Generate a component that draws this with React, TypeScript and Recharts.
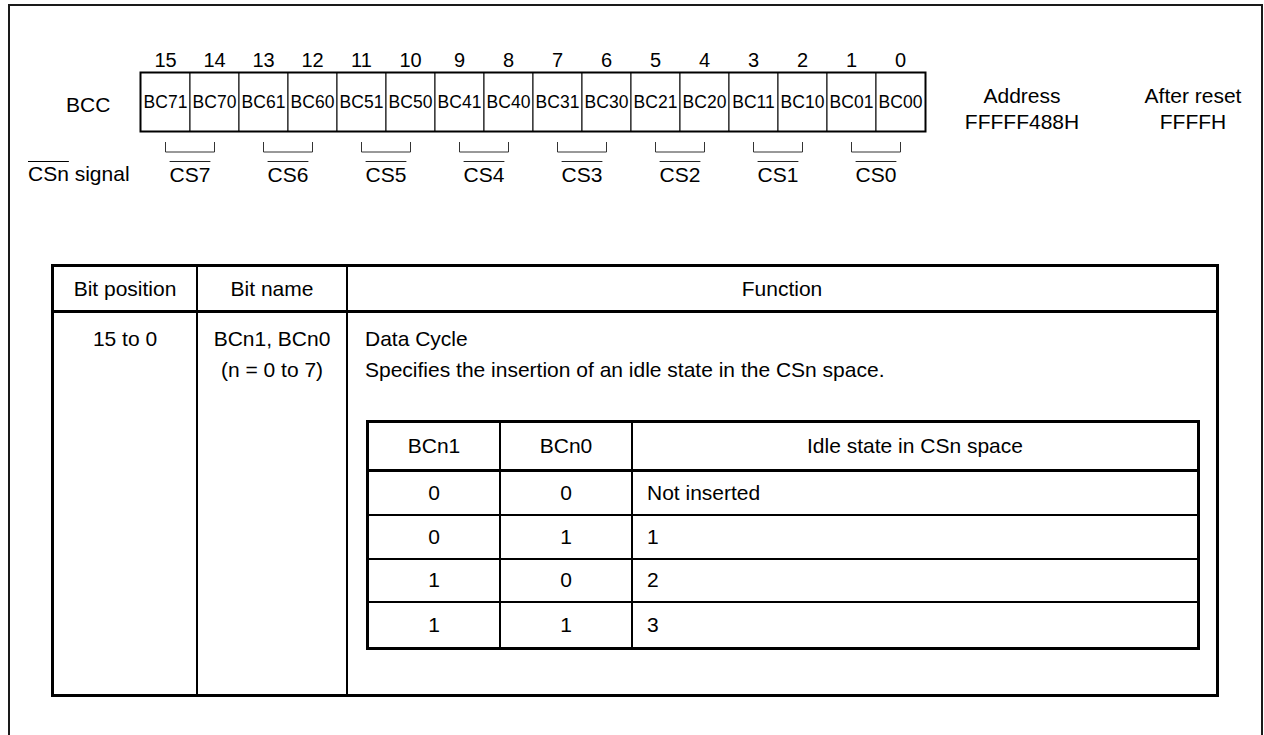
import React from 'react'
import { BarChart, Bar, XAxis, YAxis, LabelList, ReferenceArea } from 'recharts'

// register BCC, bit 15 down to bit 0
const bitNumbers = [15, 14, 13, 12, 11, 10, 9, 8, 7, 6, 5, 4, 3, 2, 1, 0]
const bitNames = [
  'BC71', 'BC70', 'BC61', 'BC60', 'BC51', 'BC50', 'BC41', 'BC40',
  'BC31', 'BC30', 'BC21', 'BC20', 'BC11', 'BC10', 'BC01', 'BC00',
]
const csSignals = [
  'CS7', 'CS7', 'CS6', 'CS6', 'CS5', 'CS5', 'CS4', 'CS4',
  'CS3', 'CS3', 'CS2', 'CS2', 'CS1', 'CS1', 'CS0', 'CS0',
]
const registerName = 'BCC'
const addressLines = ['Address', 'FFFFF488H']
const resetLines = ['After reset', 'FFFFH']

// bit description table
const tableHeaders = ['Bit position', 'Bit name', 'Function']
const bitPositionLines = ['15 to 0']
const bitNameLines = ['BCn1, BCn0', '(n = 0 to 7)']
const functionLines = ['Data Cycle', 'Specifies the insertion of an idle state in the CSn space.']

// idle state sub-table
const idleHeaders = ['BCn1', 'BCn0', 'Idle state in CSn space']
const bcn1Values = ['0', '0', '1', '1']
const bcn0Values = ['0', '1', '0', '1']
const idleStates = ['Not inserted', '1', '2', '3']

const FONT = '"Liberation Sans", Arial, Helvetica, sans-serif'

const registerData = bitNumbers.map((bit, i) => ({
  bit,
  name: bitNames[i],
  cs: csSignals[i],
  cell: 1,
}))

function CsTick(props: any) {
  const { x, y, payload } = props
  const half = (payload && payload.offset ? payload.offset : 49) / 2
  // active-low bar roughly as wide as the label
  const bar = String(payload.value).length * 6.8
  return (
    <g>
      <polyline
        points={`${x - half},${y + 11} ${x - half},${y + 21} ${x + half},${y + 21} ${x + half},${y + 11}`}
        fill='none'
        stroke='#333'
        strokeWidth={1}
      />
      <line x1={x - bar} x2={x + bar} y1={y + 30.5} y2={y + 30.5} stroke='#222' strokeWidth={1} />
      <text
        x={x}
        y={y + 43}
        textAnchor='middle'
        dominantBaseline='central'
        fontSize={21}
        fill='#000'
      >
        {payload.value}
      </text>
    </g>
  )
}

function RegisterChart() {
  return (
    <div style={{ position: 'absolute', left: 0, top: 0 }}>
      <BarChart
        width={1264}
        height={200}
        data={registerData}
        margin={{ top: 43, right: 339, bottom: 9, left: 141 }}
        barCategoryGap={0}
        barGap={0}
      >
        <XAxis
          xAxisId='bits'
          dataKey='bit'
          orientation='top'
          height={30}
          axisLine={false}
          tickLine={false}
          tickSize={6}
          tickMargin={0}
          interval={0}
          tick={{ fontSize: 20, fill: '#000' }}
        />
        <XAxis
          xAxisId='cs'
          dataKey='cs'
          orientation='bottom'
          height={60}
          allowDuplicatedCategory={false}
          axisLine={false}
          tickLine={false}
          tickSize={0}
          tickMargin={0}
          interval={0}
          tick={<CsTick />}
        />
        <YAxis hide domain={[0, 1]} />
        <Bar
          xAxisId='bits'
          dataKey='cell'
          fill='#fff'
          stroke='#000'
          strokeWidth={1}
          isAnimationActive={false}
        >
          <LabelList dataKey='name' position='center' fill='#000' fontSize={17.5} />
        </Bar>
        <ReferenceArea
          xAxisId='bits'
          x1={15}
          x2={0}
          fill='none'
          stroke='#000'
          strokeWidth={3}
          ifOverflow='visible'
        />
      </BarChart>
    </div>
  )
}

function TopLabels() {
  const base: React.CSSProperties = {
    position: 'absolute',
    fontSize: 21,
    lineHeight: '26px',
    whiteSpace: 'nowrap',
  }
  return (
    <>
      <div style={{ ...base, left: 66, top: 92 }}>{registerName}</div>
      <div style={{ ...base, left: 28, top: 161 }}>
        <span style={{ textDecoration: 'overline', textDecorationThickness: '1px' }}>CSn</span> signal
      </div>
      <div style={{ ...base, left: 922, top: 83, width: 200, textAlign: 'center' }}>
        {addressLines.map((l) => (
          <div key={l}>{l}</div>
        ))}
      </div>
      <div style={{ ...base, left: 1093, top: 83, width: 200, textAlign: 'center' }}>
        {resetLines.map((l) => (
          <div key={l}>{l}</div>
        ))}
      </div>
    </>
  )
}

function IdleTable() {
  const cell: React.CSSProperties = {
    boxSizing: 'border-box',
    display: 'flex',
    alignItems: 'center',
    justifyContent: 'center',
  }
  const rows = idleStates.map((s, i) => [bcn1Values[i], bcn0Values[i], s])
  return (
    <div
      style={{
        marginLeft: 1,
        marginTop: 35,
        width: 834,
        height: 230,
        border: '3px solid #000',
        boxSizing: 'border-box',
        display: 'grid',
        gridTemplateColumns: '132px 132px 1fr',
        gridTemplateRows: '49px repeat(4, 1fr)',
        lineHeight: '24px',
      }}
    >
      {idleHeaders.map((h, i) => (
        <div
          key={h}
          style={{
            ...cell,
            borderBottom: '3px solid #000',
            borderRight: i < 2 ? '2px solid #000' : undefined,
          }}
        >
          {h}
        </div>
      ))}
      {rows.map((r, ri) =>
        r.map((v, ci) => (
          <div
            key={`${ri}-${ci}`}
            style={{
              ...cell,
              justifyContent: ci < 2 ? 'center' : 'flex-start',
              paddingLeft: ci < 2 ? 0 : 14,
              borderBottom: ri < rows.length - 1 ? '2px solid #000' : undefined,
              borderRight: ci < 2 ? '2px solid #000' : undefined,
            }}
          >
            {v}
          </div>
        ))
      )}
    </div>
  )
}

function BitTable() {
  const body: React.CSSProperties = {
    boxSizing: 'border-box',
    paddingTop: 10,
    lineHeight: '31px',
  }
  return (
    <div
      style={{
        position: 'absolute',
        left: 51,
        top: 264,
        width: 1168,
        height: 433,
        border: '3px solid #000',
        boxSizing: 'border-box',
        display: 'grid',
        gridTemplateColumns: '144px 150px 1fr',
        gridTemplateRows: '46px 1fr',
        fontSize: 21,
      }}
    >
      {tableHeaders.map((h, i) => (
        <div
          key={h}
          style={{
            boxSizing: 'border-box',
            borderBottom: '3px solid #000',
            borderRight: i < 2 ? '2px solid #000' : undefined,
            display: 'flex',
            alignItems: 'center',
            justifyContent: 'center',
          }}
        >
          {h}
        </div>
      ))}
      <div style={{ ...body, borderRight: '2px solid #000', textAlign: 'center' }}>
        {bitPositionLines.map((l) => (
          <div key={l}>{l}</div>
        ))}
      </div>
      <div style={{ ...body, borderRight: '2px solid #000', textAlign: 'center' }}>
        {bitNameLines.map((l) => (
          <div key={l}>{l}</div>
        ))}
      </div>
      <div style={{ ...body, paddingLeft: 17, overflow: 'hidden' }}>
        {functionLines.map((l) => (
          <div key={l} style={{ whiteSpace: 'nowrap' }}>{l}</div>
        ))}
        <IdleTable />
      </div>
    </div>
  )
}

export default function App() {
  return (
    <div
      style={{
        position: 'absolute',
        left: 0,
        top: 0,
        width: 1264,
        height: 735,
        overflow: 'hidden',
        background: '#fff',
        fontFamily: FONT,
        color: '#000',
      }}
    >
      <div
        style={{
          position: 'absolute',
          left: 8,
          top: 4,
          width: 1255,
          height: 800,
          border: '2px solid #1a1a1a',
          boxSizing: 'border-box',
        }}
      />
      <RegisterChart />
      <TopLabels />
      <BitTable />
    </div>
  )
}
